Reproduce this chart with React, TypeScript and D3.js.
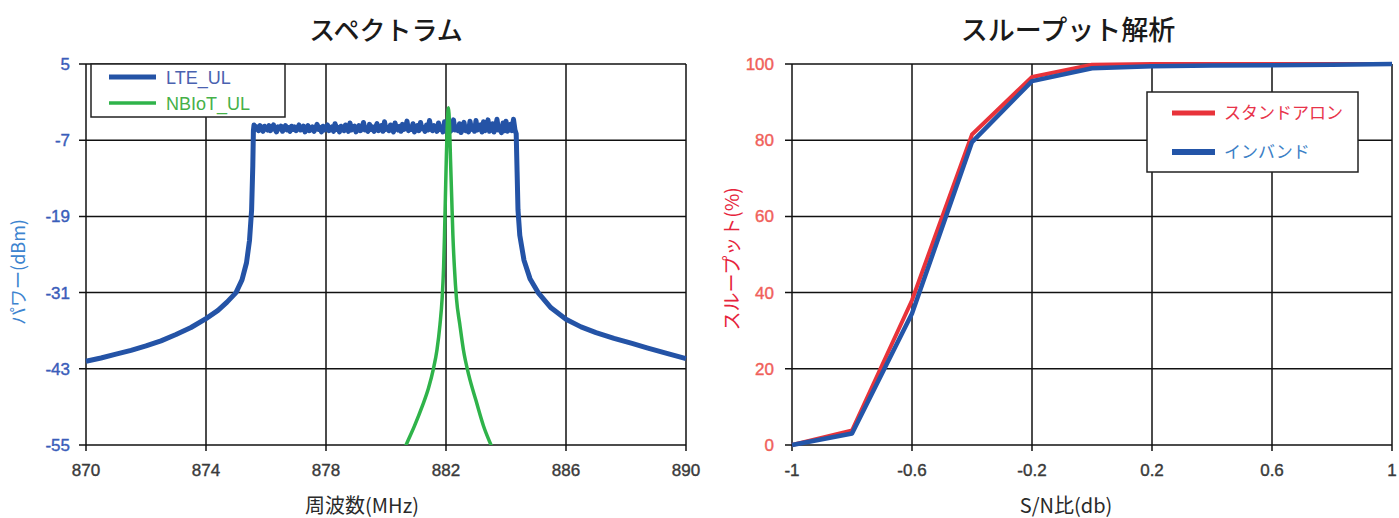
import React, { useEffect, useRef } from "react";
import * as d3 from "d3";

// ---- spectrum data (MHz / dBm) ----
const lteLeftFreq = [870, 870.5, 871, 871.5, 872, 872.5, 873, 873.5, 874, 874.4, 874.7, 875, 875.2, 875.35, 875.45, 875.52, 875.56, 875.58];
const lteLeftDbm = [-41.8, -41.3, -40.7, -40.1, -39.4, -38.6, -37.6, -36.5, -35.1, -33.8, -32.5, -31, -29, -26.3, -22.8, -18, -11, -5.5];

// analyzer bins across the occupied band, 0.05 MHz apart
const plateauStart = 875.6;
const plateauStep = 0.05;
const ltePlateauDbm = [
  -4.6, -5.3, -4.9, -5.5, -4.7, -5.2, -5.6, -4.8, -5.1, -5.4,
  -4.7, -5.5, -5.0, -4.6, -5.3, -5.7, -4.9, -5.2, -4.8, -5.6,
  -5.1, -4.7, -5.4, -5.0, -5.6, -4.8, -5.3, -4.9, -5.5, -5.1,
  -4.6, -5.4, -5.2, -4.8, -5.7, -5.0, -4.7, -5.5, -5.2, -4.9,
  -5.6, -5.1, -4.5, -5.3, -5.0, -5.7, -4.8, -5.4, -5.1, -4.6,
  -5.5, -5.2, -4.9, -5.6, -4.4, -5.3, -5.0, -5.7, -4.8, -5.2,
  -5.5, -4.6, -5.1, -5.6, -4.3, -5.4, -5.0, -4.8, -5.7, -5.1,
  -4.7, -5.5, -5.2, -4.2, -5.4, -5.0, -5.6, -4.5, -5.3, -4.9,
  -5.6, -5.0, -4.4, -5.5, -5.1, -4.7, -5.6, -4.1, -5.3, -5.0,
  -5.5, -4.6, -5.2, -5.7, -4.3, -5.1, -5.4, -4.8, -5.6, -4.5,
  -5.3, -5.0, -4.0, -5.5, -4.9, -5.3, -4.4, -5.7, -5.1, -4.7,
  -5.5, -4.2, -5.2, -5.0, -5.6, -4.6, -5.4, -3.9, -5.2, -5.5,
  -4.7, -5.1, -5.6, -4.3, -5.3, -4.9, -5.7, -4.1, -5.4, -5.0,
  -4.5, -5.6, -5.2, -3.8, -5.4, -4.9, -5.5, -4.4, -5.8, -5.1,
  -4.2, -5.5, -5.0, -5.7, -4.0, -5.3, -4.8, -5.6, -3.9, -5.4,
  -5.1, -4.6, -5.7, -4.1, -5.5, -5.0, -3.8, -5.6, -5.2, -4.4,
  -5.7, -4.9, -3.7, -5.4, -5.1, -5.8, -4.3, -5.5, -4.0, -5.6,
  -5.2, -4.5, -5.5, -3.7, -5.4,
];

const lteRightFreq = [884.34, 884.37, 884.4, 884.46, 884.6, 884.8, 885.07, 885.5, 886, 886.5, 887, 887.6, 888.2, 888.7, 889.3, 890];
const lteRightDbm = [-6, -12, -18, -22, -25.9, -28.8, -31, -33.4, -35.2, -36.4, -37.3, -38.2, -39.0, -39.7, -40.5, -41.4];

const nbFreq = [880.5, 880.67, 880.95, 881.2, 881.42, 881.58, 881.7, 881.8, 881.87, 881.92, 881.95, 881.98, 882.01, 882.04, 882.08,
  882.12, 882.15, 882.19, 882.23, 882.28, 882.35, 882.46, 882.58, 882.76, 883.0, 883.25, 883.5, 883.68];
const nbDbm = [-57, -55, -52, -49, -46, -43, -40, -36, -32, -27, -22, -16, -10, -5, -1.9,
  -5, -10, -16, -22, -27, -32, -36, -40, -44, -48, -52, -55, -57];

const specXTicks = [870, 874, 878, 882, 886, 890];
const specYTicks = [5, -7, -19, -31, -43, -55];

// ---- throughput data (S/N dB / %) ----
const snr = [-1, -0.8, -0.6, -0.4, -0.2, 0, 0.2, 0.4, 0.6, 0.8, 1];
const standalone = [0, 3.8, 38, 81.5, 96.6, 99.8, 100, 100, 100, 100, 100];
const inband = [0, 3.0, 34.5, 79.5, 95.5, 98.9, 99.4, 99.6, 99.7, 99.8, 100];

const tpXTicks = [-1, -0.6, -0.2, 0.2, 0.6, 1];
const tpYTicks = [0, 20, 40, 60, 80, 100];

const JP = "'Noto Sans CJK JP', 'Noto Sans', sans-serif";
const NUM = "'Liberation Sans', Arial, sans-serif";

export default function App() {
  const ref = useRef<SVGSVGElement>(null);

  useEffect(() => {
    const svg = d3.select(ref.current);
    svg.selectAll("*").remove();

    const top = 64;
    const bottom = 445;

    // ---------- spectrum ----------
    const xL = d3.scaleLinear().domain([870, 890]).range([86, 686]);
    const yL = d3.scaleLinear().domain([-55, 5]).range([bottom, top]);

    const lteData: [number, number][] = [
      ...lteLeftFreq.map((f, i) => [f, lteLeftDbm[i]] as [number, number]),
      ...ltePlateauDbm.map((v, i) => [plateauStart + i * plateauStep, v] as [number, number]),
      ...lteRightFreq.map((f, i) => [f, lteRightDbm[i]] as [number, number]),
    ];
    const nbData: [number, number][] = nbFreq.map((f, i) => [f, nbDbm[i]]);

    svg.append("defs").append("clipPath").attr("id", "clipL")
      .append("rect").attr("x", 86).attr("y", top - 10).attr("width", 600).attr("height", bottom - top + 10);

    const gL = svg.append("g");

    // grid
    gL.selectAll(".vx").data(specXTicks).join("line")
      .attr("x1", (d) => xL(d)).attr("x2", (d) => xL(d))
      .attr("y1", top).attr("y2", bottom + 6)
      .attr("stroke", "#111").attr("stroke-width", 1.5);
    gL.selectAll(".hy").data(specYTicks).join("line")
      .attr("x1", 79).attr("x2", 686)
      .attr("y1", (d) => yL(d)).attr("y2", (d) => yL(d))
      .attr("stroke", "#111").attr("stroke-width", 1.5);

    gL.selectAll(".tx").data(specXTicks).join("text")
      .attr("x", (d) => xL(d)).attr("y", 476)
      .attr("text-anchor", "middle").attr("font-family", NUM).attr("font-size", 17)
      .attr("fill", "#3a3a3a").attr("stroke", "#3a3a3a").attr("stroke-width", 0.4).text((d) => d);
    gL.selectAll(".ty").data(specYTicks).join("text")
      .attr("x", 70).attr("y", (d) => yL(d) + 6)
      .attr("text-anchor", "end").attr("font-family", NUM).attr("font-size", 17)
      .attr("fill", "#3a5dba").attr("stroke", "#3a5dba").attr("stroke-width", 0.4).text((d) => d);

    const lineL = d3.line<[number, number]>().x((d) => xL(d[0])).y((d) => yL(d[1]));
    gL.append("path").datum(lteData).attr("d", lineL).attr("fill", "none")
      .attr("stroke", "#2453a6").attr("stroke-width", 5).attr("stroke-linejoin", "round");
    gL.append("path").datum(nbData).attr("d", lineL.curve(d3.curveMonotoneX)).attr("fill", "none")
      .attr("clip-path", "url(#clipL)")
      .attr("stroke", "#2fb34a").attr("stroke-width", 3.5).attr("stroke-linejoin", "round");

    // legend
    gL.append("rect").attr("x", 91).attr("y", 64).attr("width", 194).attr("height", 53)
      .attr("fill", "white").attr("stroke", "#222").attr("stroke-width", 1.5);
    const legL = [
      { name: "LTE_UL", color: "#2453a6", text: "#4a62b0", w: 5 },
      { name: "NBIoT_UL", color: "#2fb34a", text: "#45b048", w: 3.5 },
    ];
    legL.forEach((d, i) => {
      const y = 77 + i * 26;
      gL.append("line").attr("x1", 109).attr("x2", 156).attr("y1", y).attr("y2", y)
        .attr("stroke", d.color).attr("stroke-width", d.w);
      gL.append("text").attr("x", 166).attr("y", y + 7).attr("font-family", NUM)
        .attr("font-size", 18).attr("fill", d.text).text(d.name);
    });

    gL.append("text").attr("x", 386).attr("y", 40).attr("text-anchor", "middle")
      .attr("font-family", JP).attr("font-size", 26).attr("font-weight", 500)
      .attr("fill", "#1a1a1a").text("スペクトラム");
    gL.append("text").attr("x", 362).attr("y", 513).attr("text-anchor", "middle")
      .attr("font-family", JP).attr("font-size", 20).attr("fill", "#2a2a2a").text("周波数(MHz)");
    gL.append("text").attr("transform", "translate(25,272) rotate(-90)").attr("text-anchor", "middle")
      .attr("font-family", JP).attr("font-size", 18).attr("fill", "#3d84cf").text("パワー(dBm)");

    // ---------- throughput ----------
    const xR = d3.scaleLinear().domain([-1, 1]).range([792, 1392]);
    const yR = d3.scaleLinear().domain([0, 100]).range([bottom, top]);
    const gR = svg.append("g");

    gR.selectAll(".vx").data(tpXTicks).join("line")
      .attr("x1", (d) => xR(d)).attr("x2", (d) => xR(d))
      .attr("y1", top).attr("y2", bottom + 6)
      .attr("stroke", "#111").attr("stroke-width", 1.5);
    gR.selectAll(".hy").data(tpYTicks).join("line")
      .attr("x1", 785).attr("x2", 1392)
      .attr("y1", (d) => yR(d)).attr("y2", (d) => yR(d))
      .attr("stroke", "#111").attr("stroke-width", 1.5);

    gR.selectAll(".tx").data(tpXTicks).join("text")
      .attr("x", (d) => xR(d)).attr("y", 476)
      .attr("text-anchor", "middle").attr("font-family", NUM).attr("font-size", 17)
      .attr("fill", "#3a3a3a").attr("stroke", "#3a3a3a").attr("stroke-width", 0.4).text((d) => d);
    gR.selectAll(".ty").data(tpYTicks).join("text")
      .attr("x", 774).attr("y", (d) => yR(d) + 6)
      .attr("text-anchor", "end").attr("font-family", NUM).attr("font-size", 17)
      .attr("fill", "#f0605a").attr("stroke", "#f0605a").attr("stroke-width", 0.4).text((d) => d);

    const lineR = d3.line<number>().x((_, i) => xR(snr[i])).y((d) => yR(d));
    gR.append("path").datum(standalone).attr("d", lineR).attr("fill", "none")
      .attr("stroke", "#e8333a").attr("stroke-width", 4).attr("stroke-linejoin", "round");
    gR.append("path").datum(inband).attr("d", lineR).attr("fill", "none")
      .attr("stroke", "#2355a8").attr("stroke-width", 4.5).attr("stroke-linejoin", "round");

    gR.append("rect").attr("x", 1147).attr("y", 92).attr("width", 211).attr("height", 80)
      .attr("fill", "white").attr("stroke", "#222").attr("stroke-width", 1.5);
    const legR = [
      { name: "スタンドアロン", color: "#e8333a", text: "#e8334a", w: 5 },
      { name: "インバンド", color: "#2355a8", text: "#3b80c6", w: 6 },
    ];
    legR.forEach((d, i) => {
      const y = 113 + i * 39;
      gR.append("line").attr("x1", 1172).attr("x2", 1215).attr("y1", y).attr("y2", y)
        .attr("stroke", d.color).attr("stroke-width", d.w);
      gR.append("text").attr("x", 1224).attr("y", y + 6).attr("font-family", JP)
        .attr("font-size", 17).attr("fill", d.text).text(d.name);
    });

    gR.append("text").attr("x", 1068).attr("y", 40).attr("text-anchor", "middle")
      .attr("font-family", JP).attr("font-size", 27).attr("font-weight", 500)
      .attr("fill", "#1a1a1a").text("スループット解析");
    gR.append("text").attr("x", 1066).attr("y", 513).attr("text-anchor", "middle")
      .attr("font-family", JP).attr("font-size", 20).attr("fill", "#2a2a2a").text("S/N比(db)");
    gR.append("text").attr("transform", "translate(739,259) rotate(-90)").attr("text-anchor", "middle")
      .attr("font-family", JP).attr("font-size", 19).attr("fill", "#e6243c").text("スループット(%)");
  }, []);

  return (
    <svg
      ref={ref}
      width={1399}
      height={518}
      viewBox="0 0 1399 518"
      style={{ position: "absolute", left: 0, top: 0, display: "block", background: "white" }}
    />
  );
}
